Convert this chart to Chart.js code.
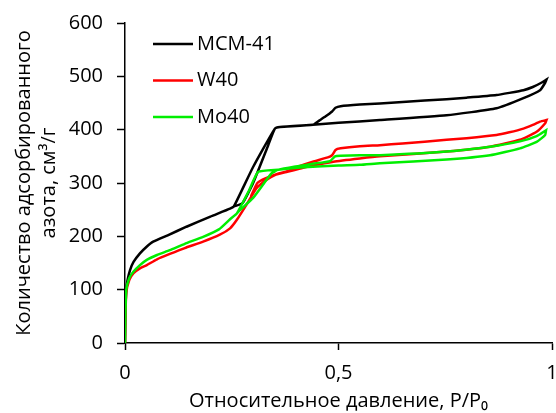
<!DOCTYPE html>
<html><head>
<meta charset="UTF-8">
<title>Изотермы адсорбции азота</title>
<style>
  body { margin: 0; padding: 0; background: #fff; }
  #wrap { width: 556px; height: 413px; position: relative; }
</style>
<script src="https://cdn.jsdelivr.net/npm/chart.js"></script>
</head>
<body>
<div id="wrap"><canvas id="isoChart" width="556" height="413"></canvas></div>
<script>
  // axis ticks
  const xTicks = [0, 0.5, 1];
  const xTickLabels = ['0', '0,5', '1'];
  const yTicks = [0, 100, 200, 300, 400, 500, 600];

  // MCM-41: adsorption branch (P/P0, cm3/g)
  const mcmAdsP = [0, 0.001, 0.003, 0.006, 0.012, 0.02, 0.035, 0.05, 0.066, 0.1, 0.144, 0.2, 0.246, 0.255, 0.3, 0.351, 0.363, 0.44, 0.5, 0.597, 0.753, 0.87, 0.933, 0.972, 0.984, 0.987];
  const mcmAdsV = [0, 60, 100, 118, 137, 152, 168, 180, 190, 202, 218, 237, 252, 256, 330, 402, 405, 409, 413, 418, 427, 440, 459, 474, 488, 494];
  // MCM-41: desorption branch
  const mcmDesP = [0.987, 0.975, 0.955, 0.933, 0.9, 0.87, 0.8, 0.753, 0.65, 0.597, 0.55, 0.505, 0.493, 0.485, 0.47, 0.455, 0.44, 0.363, 0.351, 0.335, 0.3, 0.275, 0.255];
  const mcmDesV = [494, 488, 480, 474, 469, 465, 460, 457, 452, 449, 447, 444, 441, 434, 425, 417, 409, 405, 402, 370, 300, 262, 256];

  // W40
  const w40AdsP = [0, 0.001, 0.003, 0.01, 0.02, 0.035, 0.051, 0.075, 0.105, 0.14, 0.183, 0.222, 0.246, 0.262, 0.285, 0.308, 0.33, 0.351, 0.38, 0.41, 0.441, 0.488, 0.55, 0.597, 0.753, 0.855, 0.925, 0.964, 0.984, 0.987];
  const w40AdsV = [0, 50, 95, 118, 131, 140, 146, 157, 167, 178, 190, 203, 215, 231, 260, 290, 305, 315, 321, 327, 333, 340, 346, 350, 359, 368, 381, 396, 412, 418];
  const w40DesP = [0.987, 0.972, 0.955, 0.933, 0.9, 0.87, 0.8, 0.753, 0.65, 0.597, 0.55, 0.505, 0.493, 0.485, 0.475, 0.44, 0.41, 0.38, 0.36, 0.33, 0.31, 0.295];
  const w40DesV = [418, 415, 409, 402, 395, 390, 384, 381, 374, 371, 369, 365, 362, 352, 348, 340, 332, 322, 318, 309, 300, 275];

  // Mo40
  const mo40AdsP = [0, 0.001, 0.003, 0.01, 0.02, 0.035, 0.051, 0.075, 0.105, 0.14, 0.183, 0.22, 0.246, 0.262, 0.29, 0.312, 0.359, 0.41, 0.45, 0.5, 0.55, 0.597, 0.753, 0.855, 0.925, 0.964, 0.984, 0.986];
  const mo40AdsV = [0, 55, 100, 122, 134, 146, 156, 165, 174, 186, 199, 213, 232, 243, 285, 321, 325, 329, 331, 333, 334, 337, 344, 352, 365, 377, 390, 399];
  const mo40DesP = [0.986, 0.964, 0.925, 0.855, 0.753, 0.597, 0.55, 0.505, 0.492, 0.48, 0.44, 0.4, 0.36, 0.343, 0.3, 0.269, 0.262];
  const mo40DesV = [399, 388, 378, 368, 359, 352, 352, 351, 350, 341, 336, 331, 325, 318, 272, 249, 243];

  const seriesNames = ['MCM-41', 'W40', 'Mo40'];
  const seriesColors = ['#000000', '#ff0000', '#00ee00'];

  // adsorption then desorption, one closed hysteresis path per sample
  function loop(adsP, adsV, desP, desV) {
    const pts = adsP.map((p, i) => ({ x: p, y: adsV[i] }));
    desP.forEach((p, i) => pts.push({ x: p, y: desV[i] }));
    return pts;
  }

  const loops = [
    loop(mcmAdsP, mcmAdsV, mcmDesP, mcmDesV),
    loop(w40AdsP, w40AdsV, w40DesP, w40DesV),
    loop(mo40AdsP, mo40AdsV, mo40DesP, mo40DesV)
  ];

  const font = 'Open Sans';

  // legend drawn inside the plot, top-left
  const insideLegend = {
    id: 'insideLegend',
    afterDraw(chart) {
      const ctx = chart.ctx;
      const area = chart.chartArea;
      ctx.save();
      ctx.font = '20px "' + font + '"';
      ctx.textBaseline = 'middle';
      ctx.fillStyle = '#000';
      seriesNames.forEach((name, i) => {
        const y = area.top + 21 + i * 36.5;
        const x0 = area.left + 28;
        ctx.strokeStyle = seriesColors[i];
        ctx.lineWidth = 2.5;
        ctx.beginPath();
        ctx.moveTo(x0, y);
        ctx.lineTo(x0 + 40, y);
        ctx.stroke();
        ctx.fillText(name, x0 + 44, y);
      });
      ctx.restore();
    }
  };

  new Chart(document.getElementById('isoChart'), {
    type: 'scatter',
    data: {
      datasets: loops.map((pts, i) => ({
        label: seriesNames[i],
        data: pts,
        showLine: true,
        borderColor: seriesColors[i],
        backgroundColor: seriesColors[i],
        borderWidth: 2.5,
        pointRadius: 0,
        tension: 0.15,
        order: 2 - i
      }))
    },
    options: {
      responsive: false,
      animation: false,
      layout: { padding: { top: 23, right: 4, bottom: 0, left: 0 } },
      plugins: { legend: { display: false }, tooltip: { enabled: false } },
      scales: {
        x: {
          type: 'linear',
          min: 0, max: 1,
          afterBuildTicks: s => { s.ticks = xTicks.map(v => ({ value: v })); },
          // the last label may run to the canvas edge
          afterFit: s => { s.height = 70; s.paddingLeft = 0; s.paddingRight = 0; },
          ticks: {
            callback: (v) => xTickLabels[xTicks.indexOf(v)],
            color: '#000', font: { family: font, size: 20 }, padding: 11, maxRotation: 0
          },
          grid: { display: true, drawOnChartArea: false, drawTicks: true, tickLength: 7, tickColor: '#000', tickWidth: 1.5 },
          border: { display: true, color: '#000', width: 1.5 },
          title: { display: true, text: 'Относительное давление, P/P₀', color: '#000', font: { family: font, size: 20, lineHeight: 1.2 }, padding: 0 }
        },
        y: {
          type: 'linear',
          min: 0, max: 600,
          afterBuildTicks: s => { s.ticks = yTicks.map(v => ({ value: v })); },
          afterFit: s => { s.width = 125; s.paddingTop = 0; s.paddingBottom = 0; },
          ticks: { color: '#000', font: { family: font, size: 20 }, padding: 14 },
          grid: { display: true, drawOnChartArea: false, drawTicks: true, tickLength: 8, tickColor: '#000', tickWidth: 1.5 },
          border: { display: true, color: '#000', width: 1.5 },
          title: { display: true, text: ['Количество адсорбированного', 'азота, см³/г'], color: '#000', font: { family: font, size: 20, lineHeight: 1.25 }, padding: { top: 12, bottom: 0 } }
        }
      }
    },
    plugins: [insideLegend]
  });
</script>
</body></html>
